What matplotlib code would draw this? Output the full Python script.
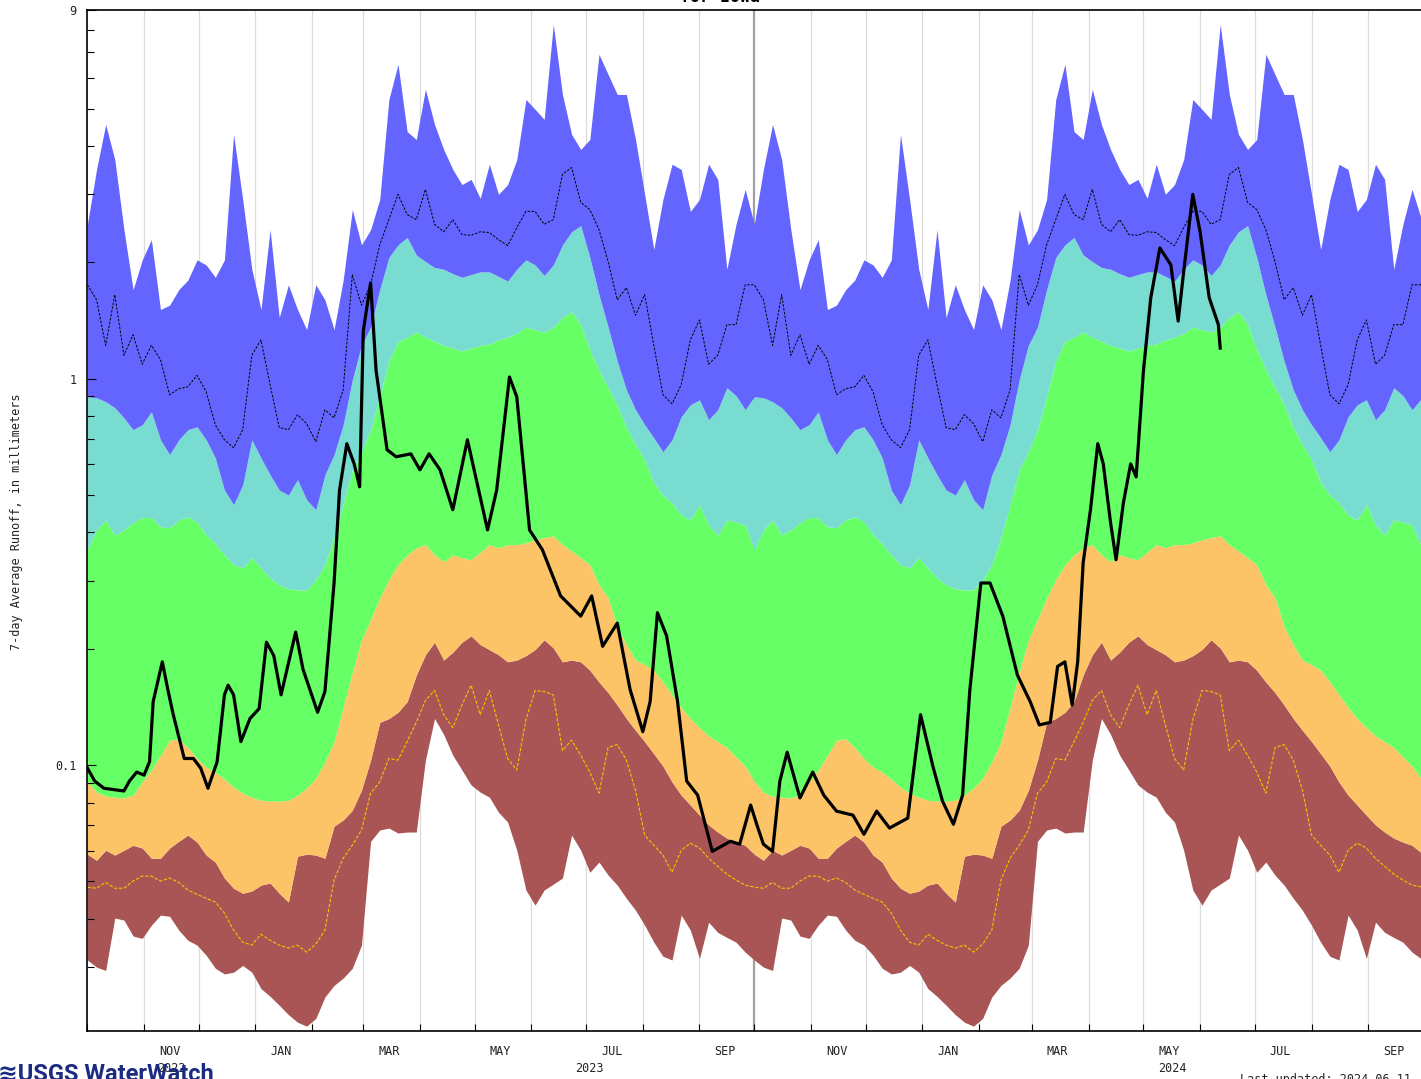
import numpy as np
import pandas as pd
import matplotlib
matplotlib.use('Agg')
import matplotlib.pyplot as plt
import matplotlib.dates as mdates
from matplotlib.ticker import FixedLocator, NullFormatter
from matplotlib.transforms import blended_transform_factory

# Daily statistics for one water year (Oct 1 -> Sep 30), sampled every 5 days
stat_days = np.arange(0, 365, 5)

runoff_max = [2.51, 3.48, 4.55, 3.69, 2.43, 1.70, 2.03, 2.29, 1.51, 1.55,
              1.70, 1.80, 2.03, 1.97, 1.83, 2.03, 4.29, 2.91, 1.92, 1.51,
              2.43, 1.44, 1.75, 1.51, 1.34, 1.75, 1.60, 1.34, 1.80, 2.74,
              2.22, 2.43, 2.91, 5.28, 6.51, 4.36, 4.16, 5.61, 4.55, 3.92,
              3.48, 3.18, 3.28, 2.93, 3.59, 3.00, 3.18, 3.69, 5.28, 4.98,
              4.69, 8.26, 5.44, 4.29, 3.92, 4.16, 6.91, 6.13, 5.44, 5.44,
              4.16, 3.00, 2.16, 2.91, 3.59, 3.48, 2.71, 2.91, 3.59, 3.28,
              1.92, 2.51, 3.09]
runoff_p90 = [0.898, 0.893, 0.872, 0.841, 0.792, 0.738, 0.760, 0.821, 0.695, 0.636,
              0.695, 0.738, 0.751, 0.695, 0.624, 0.515, 0.472, 0.531, 0.695, 0.624,
              0.564, 0.515, 0.500, 0.548, 0.486, 0.458, 0.564, 0.636, 0.760, 0.994,
              1.22, 1.36, 1.70, 2.06, 2.22, 2.32, 2.09, 2.01, 1.94, 1.92,
              1.87, 1.83, 1.86, 1.89, 1.89, 1.84, 1.79, 1.92, 2.03, 1.97,
              1.85, 1.97, 2.22, 2.40, 2.49, 2.06, 1.65, 1.36, 1.11, 0.936,
              0.831, 0.760, 0.703, 0.647, 0.695, 0.797, 0.856, 0.882, 0.783, 0.831,
              0.948, 0.904, 0.831]
runoff_p75 = [0.361, 0.406, 0.431, 0.394, 0.406, 0.424, 0.437, 0.437, 0.414, 0.411,
              0.431, 0.439, 0.426, 0.394, 0.374, 0.350, 0.330, 0.324, 0.344, 0.324,
              0.305, 0.293, 0.286, 0.284, 0.284, 0.302, 0.330, 0.388, 0.472, 0.581,
              0.647, 0.738, 0.898, 1.11, 1.25, 1.28, 1.32, 1.28, 1.25, 1.22,
              1.20, 1.18, 1.20, 1.22, 1.23, 1.26, 1.28, 1.31, 1.36, 1.34,
              1.32, 1.36, 1.44, 1.49, 1.38, 1.19, 1.055, 0.948, 0.856, 0.747,
              0.675, 0.617, 0.538, 0.500, 0.477, 0.444, 0.431, 0.472, 0.418, 0.394,
              0.431, 0.426, 0.418]
runoff_p25 = [0.0909, 0.0851, 0.0831, 0.0826, 0.0822, 0.0836, 0.0904, 0.0971, 0.106, 0.116,
              0.117, 0.111, 0.104, 0.0988, 0.0959, 0.0920, 0.0877, 0.0846, 0.0826, 0.0811,
              0.0807, 0.0807, 0.0811, 0.0836, 0.0872, 0.0925, 0.102, 0.115, 0.141, 0.174,
              0.211, 0.238, 0.271, 0.302, 0.330, 0.350, 0.365, 0.372, 0.350, 0.336,
              0.350, 0.344, 0.340, 0.356, 0.372, 0.365, 0.372, 0.372, 0.376, 0.383,
              0.388, 0.392, 0.372, 0.358, 0.344, 0.330, 0.293, 0.271, 0.228, 0.205,
              0.187, 0.182, 0.176, 0.164, 0.152, 0.141, 0.132, 0.125, 0.119, 0.115,
              0.111, 0.105, 0.0994]
runoff_p10 = [0.0588, 0.0567, 0.0602, 0.0585, 0.0602, 0.0620, 0.0610, 0.0574, 0.0574, 0.0610,
              0.0635, 0.0659, 0.0632, 0.0585, 0.0561, 0.0510, 0.0480, 0.0466, 0.0472, 0.0489,
              0.0495, 0.0466, 0.0442, 0.0581, 0.0588, 0.0585, 0.0574, 0.0695, 0.0721, 0.0764,
              0.0861, 0.103, 0.129, 0.132, 0.137, 0.146, 0.171, 0.193, 0.208, 0.187,
              0.196, 0.208, 0.216, 0.205, 0.199, 0.193, 0.185, 0.187, 0.192, 0.199,
              0.211, 0.201, 0.185, 0.187, 0.185, 0.176, 0.164, 0.154, 0.143, 0.132,
              0.123, 0.115, 0.107, 0.0994, 0.0904, 0.0836, 0.0788, 0.0742, 0.0700, 0.0671,
              0.0647, 0.0632, 0.0620]
runoff_min = [0.0313, 0.0300, 0.0294, 0.0402, 0.0397, 0.0361, 0.0356, 0.0385, 0.0409, 0.0406,
              0.0374, 0.0352, 0.0342, 0.0322, 0.0298, 0.0288, 0.0291, 0.0303, 0.0291, 0.0264,
              0.0252, 0.0239, 0.0226, 0.0216, 0.0211, 0.0221, 0.0251, 0.0269, 0.0281, 0.0298,
              0.0342, 0.0635, 0.0679, 0.0687, 0.0667, 0.0671, 0.0671, 0.103, 0.132, 0.120,
              0.106, 0.0971, 0.0888, 0.0851, 0.0826, 0.0755, 0.0712, 0.0602, 0.0475, 0.0434,
              0.0475, 0.0492, 0.0510, 0.0659, 0.0602, 0.0528, 0.0561, 0.0519, 0.0489, 0.0452,
              0.0421, 0.0385, 0.0348, 0.0320, 0.0313, 0.0409, 0.0374, 0.0316, 0.0392, 0.0369,
              0.0358, 0.0348, 0.0328]
# reference lines drawn inside the bands
ref_dashed = [1.75, 1.60, 1.22, 1.65, 1.15, 1.30, 1.09, 1.22, 1.12, 0.909,
              0.942, 0.953, 1.02, 0.925, 0.760, 0.695, 0.663, 0.738, 1.15, 1.26,
              0.965, 0.747, 0.738, 0.807, 0.765, 0.687, 0.831, 0.792, 0.936, 1.86,
              1.55, 1.75, 2.22, 2.58, 3.00, 2.66, 2.58, 3.09, 2.51, 2.40,
              2.58, 2.36, 2.35, 2.40, 2.39, 2.29, 2.21, 2.46, 2.71, 2.71,
              2.51, 2.58, 3.38, 3.52, 2.86, 2.74, 2.43, 2.01, 1.60, 1.72,
              1.46, 1.65, 1.22, 0.909, 0.861, 0.965, 1.26, 1.42, 1.09, 1.15,
              1.38, 1.38, 1.75]
ref_yellow = [0.0483, 0.0480, 0.0497, 0.0480, 0.0480, 0.0501, 0.0516, 0.0516, 0.0501, 0.0510,
              0.0497, 0.0475, 0.0463, 0.0452, 0.0442, 0.0414, 0.0374, 0.0348, 0.0342, 0.0365,
              0.0352, 0.0342, 0.0336, 0.0342, 0.0328, 0.0344, 0.0374, 0.0504, 0.0574, 0.0620,
              0.0679, 0.0846, 0.0904, 0.104, 0.103, 0.115, 0.129, 0.147, 0.156, 0.135,
              0.125, 0.143, 0.161, 0.135, 0.156, 0.127, 0.104, 0.0971, 0.131, 0.156,
              0.155, 0.152, 0.109, 0.116, 0.106, 0.0959, 0.0846, 0.111, 0.113, 0.103,
              0.0861, 0.0659, 0.0620, 0.0585, 0.0528, 0.0602, 0.0628, 0.0610, 0.0574, 0.0547,
              0.0522, 0.0504, 0.0489]

# Observed 7-day average runoff (days since 2022-10-01)
obs_day = [0, 4, 9, 20, 23, 27, 31, 34, 36, 41, 44, 47, 53, 58, 62, 66, 71, 75, 77, 80,
           84, 89, 94, 98, 102, 106, 114, 118, 126, 130, 135, 138, 142, 146, 149, 151, 155, 158, 164, 169,
           177, 182, 187, 193, 200, 208, 219, 224, 231, 235, 242, 249, 259, 270, 276, 282, 290, 297, 304, 308,
           312, 317, 323, 328, 334, 342, 352, 357, 363, 367, 370, 375, 379, 383, 390, 397, 403, 410, 419, 425,
           432, 439, 449, 456, 463, 468, 474, 479, 483, 489, 494, 501, 509, 516, 521, 527, 531, 535, 539, 542,
           545, 549, 553, 556, 560, 563, 567, 571, 574, 578, 582, 587, 593, 597, 600, 605, 609, 614, 619, 620]
obs_runoff = [0.0982, 0.0909, 0.0871, 0.0857, 0.0909, 0.0959, 0.0942, 0.102, 0.146, 0.185,
              0.157, 0.135, 0.104, 0.104, 0.0982, 0.0871, 0.102, 0.152, 0.161, 0.152,
              0.115, 0.132, 0.140, 0.208, 0.192, 0.152, 0.221, 0.177, 0.137, 0.155,
              0.296, 0.515, 0.679, 0.602, 0.525, 1.33, 1.77, 1.05, 0.655, 0.628,
              0.639, 0.581, 0.639, 0.581, 0.458, 0.695, 0.406, 0.515, 1.01, 0.898,
              0.406, 0.361, 0.274, 0.243, 0.274, 0.203, 0.233, 0.157, 0.122, 0.146,
              0.248, 0.216, 0.146, 0.0909, 0.0836, 0.0598, 0.0635, 0.0624, 0.0788, 0.0687,
              0.0624, 0.0598, 0.0909, 0.108, 0.0822, 0.0959, 0.0836, 0.0760, 0.0742, 0.0662,
              0.0760, 0.0687, 0.0729, 0.135, 0.0982, 0.0807, 0.0703, 0.0836, 0.157, 0.296,
              0.296, 0.243, 0.171, 0.146, 0.127, 0.129, 0.180, 0.185, 0.143, 0.185,
              0.334, 0.458, 0.679, 0.602, 0.424, 0.340, 0.477, 0.602, 0.557, 1.05,
              1.62, 2.18, 1.97, 1.41, 1.89, 3.00, 2.40, 1.62, 1.38, 1.20]

month_labels = ['NOV', 'JAN', 'MAR', 'MAY', 'JUL', 'SEP']

START = pd.Timestamp('2022-10-01')
END = pd.Timestamp('2024-10-01')
WY2 = pd.Timestamp('2023-10-01')

# same day-of-year statistics repeat for both water years
stat_dates = (list(START + pd.to_timedelta(stat_days, 'D'))
              + list(WY2 + pd.to_timedelta(stat_days, 'D')) + [END])
sx = mdates.date2num(stat_dates)

def two_years(vals):
    v = np.asarray(vals, dtype=float)
    return np.concatenate([v, v, v[:1]])

obs_x = mdates.date2num(START + pd.to_timedelta(obs_day, 'D'))

C_BLUE = '#6464ff'
C_CYAN = '#79dcd1'
C_GREEN = '#66ff66'
C_ORANGE = '#fcc466'
C_BROWN = '#aa5555'
MONO = ['DejaVu Sans Mono']

W, H = 1421, 1079
fig = plt.figure(figsize=(W / 100, H / 100), dpi=100)
ax = fig.add_axes([87.4 / W, 48 / H, (1423 - 87.4) / W, 1021 / H])

ax.set_yscale('log')
ax.set_ylim(0.0205, 9.0)
ax.set_xlim(mdates.date2num(START), mdates.date2num(END))

# month gridlines behind the bands
months = pd.date_range(START, END, freq='MS')
for m in months[1:-1]:
    if m == WY2:
        ax.axvline(mdates.date2num(m), color='#a0a0a0', lw=1.6, zorder=0)
    else:
        ax.axvline(mdates.date2num(m), color='#dcdcdc', lw=0.9, zorder=0)

bands = [(runoff_min, runoff_p10, C_BROWN), (runoff_p10, runoff_p25, C_ORANGE),
         (runoff_p25, runoff_p75, C_GREEN), (runoff_p75, runoff_p90, C_CYAN),
         (runoff_p90, runoff_max, C_BLUE)]
for lo, hi, col in bands:
    ax.fill_between(sx, two_years(lo), two_years(hi), color=col, lw=0, zorder=1)

ax.plot(sx, two_years(ref_yellow), color='#ecc800', lw=0.8, ls=(0, (3, 1.5)), zorder=2)
ax.plot(sx, two_years(ref_dashed), color='black', lw=0.7, ls=(0, (2.5, 1.5)), zorder=2)
ax.plot(obs_x, obs_runoff, color='black', lw=2.3, zorder=3, solid_joinstyle='round')

# y ticks
ax.yaxis.set_major_locator(FixedLocator([0.1, 1, 9]))
ax.set_yticklabels(['0.1', '1', '9'])
minors = [m * 10.0 ** e for e in (-2, -1, 0) for m in range(2, 10)]
ax.yaxis.set_minor_locator(FixedLocator([v for v in minors if v < 9]))
ax.yaxis.set_minor_formatter(NullFormatter())
ax.tick_params(axis='y', which='major', direction='in', length=6.5, width=0.8, pad=8,
               labelsize=8.5, labelcolor='#222222')
ax.tick_params(axis='y', which='minor', direction='in', length=5, width=0.8)
for lab in ax.get_yticklabels():
    lab.set_family(MONO)

# x ticks: month starts (marks), mid-month labels
ax.xaxis.set_major_locator(FixedLocator(mdates.date2num(months)))
ax.xaxis.set_major_formatter(NullFormatter())
ax.tick_params(axis='x', which='major', direction='in', length=5, width=0.8)
lab_dates = [d + pd.Timedelta(days=14) for d in months[:-1] if d.strftime('%b').upper() in month_labels]
ax.set_xticks(mdates.date2num(lab_dates), [d.strftime('%b').upper() for d in lab_dates], minor=True)
ax.tick_params(axis='x', which='minor', length=0, pad=10, labelsize=8.5, labelcolor='#222222')
for lab in ax.get_xticklabels(minor=True):
    lab.set_family(MONO)

trans = blended_transform_factory(ax.transData, ax.transAxes)
year_spans = [('2022', START, pd.Timestamp('2023-01-01')),
              ('2023', pd.Timestamp('2023-01-01'), pd.Timestamp('2024-01-01')),
              ('2024', pd.Timestamp('2024-01-01'), END)]
for yr, a, b in year_spans:
    xm = (mdates.date2num(a) + mdates.date2num(b)) / 2
    ax.text(xm, -37 / 1021, yr, transform=trans, ha='center', va='center',
            fontsize=8.5, family=MONO, color='#222222', clip_on=False)

for s in ax.spines.values():
    s.set_linewidth(1.2)

fig.text(17 / W, 1 - 522 / H, '7-day Average Runoff, in millimeters', rotation=90,
         ha='center', va='center', fontsize=8.5, family=MONO, color='#222222')
fig.text(720 / W, 1 - 2 / H, 'for Iowa', ha='center', va='baseline',
         fontsize=12, family=MONO, fontweight='bold')
fig.text(-2 / W, 1 - 1081 / H, '\u224bUSGS WaterWatch', ha='left', va='baseline',
         fontsize=17, fontweight='bold', color='#1c2b82',
         family=['Roboto', 'Liberation Sans', 'DejaVu Sans'])
fig.text(1240 / W, 1 - 1083 / H, 'Last updated: 2024-06-11', ha='left', va='baseline',
         fontsize=8.5, family=MONO, color='#222222')

fig.savefig('out.png', dpi=100)
